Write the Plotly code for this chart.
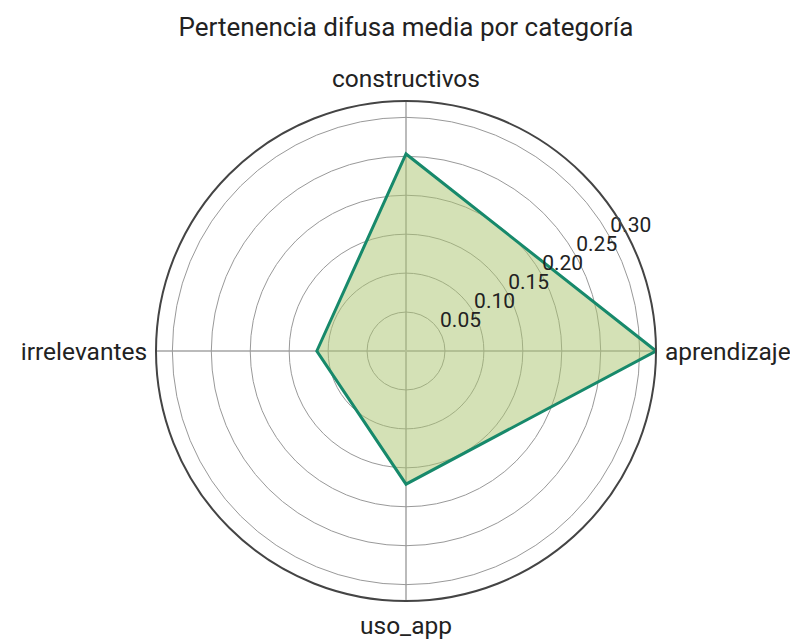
import plotly.graph_objects as go

categories = ["aprendizaje", "constructivos", "irrelevantes", "uso_app"]
values = [0.321, 0.253, 0.1145, 0.171]
tick_vals = [0.05, 0.10, 0.15, 0.20, 0.25, 0.30]
tick_text = ["0.05", "0.10", "0.15", "0.20", "0.25", "0.30"]

n = len(categories)
theta = [i * 360.0 / n for i in range(n)]
rmax = max(values)

# radial tick labels drawn horizontally, anchored on each ring along a ~29 degree line
label_angle = 29

fig = go.Figure()
fig.add_trace(go.Scatterpolar(
    r=values + [values[0]],
    theta=theta + [theta[0]],
    mode="lines",
    fill="toself",
    fillcolor="rgba(170,195,110,0.5)",
    line=dict(color="#17896b", width=3),
    showlegend=False,
    hoverinfo="skip",
))
fig.add_trace(go.Scatterpolar(
    r=tick_vals,
    theta=[label_angle] * len(tick_vals),
    mode="text",
    text=tick_text,
    textposition="top right",
    textfont=dict(size=21, color="#222"),
    showlegend=False,
    hoverinfo="skip",
    cliponaxis=False,
))

fig.update_layout(
    width=798, height=643,
    margin=dict(l=73, r=75, t=93, b=50),
    paper_bgcolor="white",
    font=dict(family="Roboto, sans-serif", color="#222", size=18),
    title=dict(text="Pertenencia difusa media por categoría", x=0.5, xref="paper",
               y=0.970, yanchor="middle", font=dict(size=26, color="#222")),
    polar=dict(
        bgcolor="white",
        angularaxis=dict(
            type="linear", thetaunit="degrees",
            rotation=0, direction="counterclockwise",
            tickmode="array", tickvals=theta, ticktext=categories,
            showline=True, linecolor="#444", linewidth=2,
            gridcolor="#bbbbbb", gridwidth=1.5,
            ticks="outside", ticklen=3, tickcolor="rgba(0,0,0,0)",
            tickfont=dict(size=24.5, color="#222"),
        ),
        radialaxis=dict(
            range=[0, rmax], angle=0,
            showline=False, ticks="", showticklabels=False,
            tickmode="array", tickvals=tick_vals,
            gridcolor="#999999", gridwidth=1,
        ),
    ),
)

fig.write_html("out.html")
